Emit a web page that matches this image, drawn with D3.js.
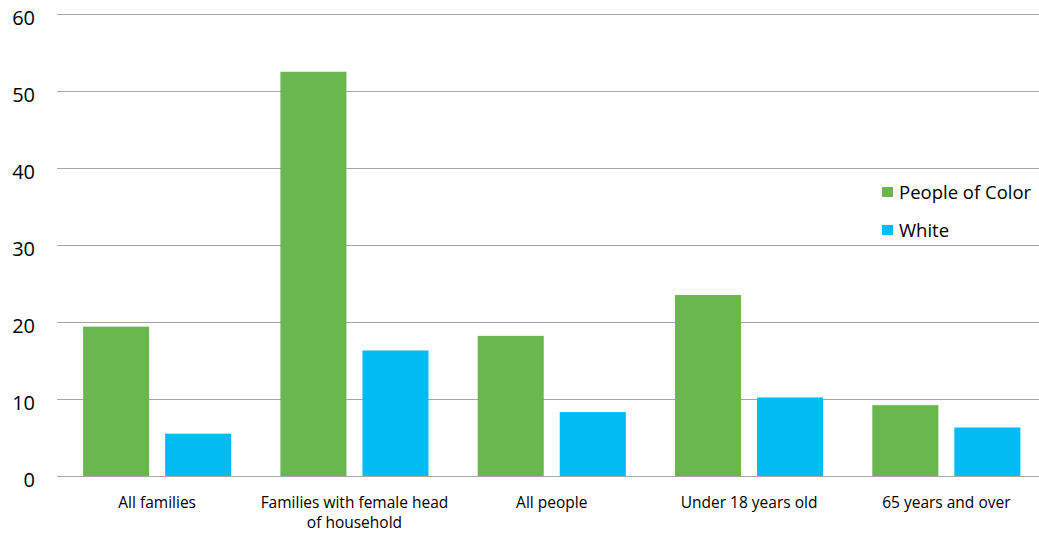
<!DOCTYPE html>
<html>
<head>
<meta charset="utf-8">
<script src="https://cdn.jsdelivr.net/npm/d3@7"></script>
<style>
  body { margin: 0; background: #fff; }
  svg { display: block; font-family: "Open Sans", sans-serif; }
</style>
</head>
<body>
<div id="chart"></div>
<script>
// categories and series (poverty rate, %)
const categories = ["All families", "Families with female head of household", "All people", "Under 18 years old", "65 years and over"];
const seriesNames = ["People of Color", "White"];
const peopleOfColor = [19.4, 52.5, 18.2, 23.5, 9.2];
const white = [5.5, 16.3, 8.3, 10.2, 6.3];
const yTicks = [0, 10, 20, 30, 40, 50, 60];

const colors = { "People of Color": "#6ab64f", "White": "#00bcf2" };

const width = 1039, height = 533;
const svg = d3.select("#chart").append("svg")
  .attr("width", width)
  .attr("height", height);

const x0 = d3.scaleBand()
  .domain(categories)
  .range([58.5, 1045])
  .paddingInner(0)
  .paddingOuter(0);

// two bars per group, centred in each band
const x1 = d3.scaleBand()
  .domain(seriesNames)
  .range([24.6, x0.bandwidth() - 24.6])
  .paddingInner(0.195)
  .paddingOuter(0);

const y = d3.scaleLinear()
  .domain([0, 60])
  .range([476, 14]);

// gridlines
svg.append("g")
  .selectAll("line")
  .data(yTicks)
  .join("line")
    .attr("x1", 57)
    .attr("x2", 1039)
    .attr("y1", d => Math.round(y(d)) + 0.5)
    .attr("y2", d => Math.round(y(d)) + 0.5)
    .attr("stroke", "#a6a6a6")
    .attr("stroke-width", 1);

// y labels
svg.append("g")
  .selectAll("text")
  .data(yTicks)
  .join("text")
    .attr("x", 35)
    .attr("y", d => y(d) + 11)
    .attr("text-anchor", "end")
    .style("font-size", "20px")
    .style("fill", "#000")
    .text(d => d);

// bars
const rows = categories.map((c, i) => ({
  cat: c,
  values: [
    { key: "People of Color", value: peopleOfColor[i] },
    { key: "White", value: white[i] }
  ]
}));

svg.append("g")
  .selectAll("g")
  .data(rows)
  .join("g")
    .attr("transform", d => `translate(${x0(d.cat)},0)`)
  .selectAll("rect")
  .data(d => d.values)
  .join("rect")
    .attr("x", d => x1(d.key))
    .attr("width", x1.bandwidth())
    .attr("y", d => y(d.value))
    .attr("height", d => y(0) - y(d.value))
    .attr("fill", d => colors[d.key]);

// x labels (wrap the long one)
const xLab = svg.append("g")
  .selectAll("text")
  .data(categories)
  .join("text")
    .attr("x", d => x0(d) + x0.bandwidth() / 2)
    .attr("y", 508)
    .attr("text-anchor", "middle")
    .style("font-size", "15.5px")
    .style("fill", "#000");

xLab.each(function(d) {
  const t = d3.select(this);
  const lines = d === "Families with female head of household"
    ? ["Families with female head", "of household"] : [d];
  lines.forEach((l, i) => {
    t.append("tspan")
      .attr("x", x0(d) + x0.bandwidth() / 2)
      .attr("dy", i === 0 ? 0 : 20)
      .text(l);
  });
});

// legend
const legend = svg.append("g")
  .selectAll("g")
  .data(seriesNames)
  .join("g")
    .attr("transform", (d, i) => `translate(882,${187 + i * 38})`);

legend.append("rect")
  .attr("width", 11)
  .attr("height", 10)
  .attr("fill", d => colors[d]);

legend.append("text")
  .attr("x", 17)
  .attr("y", 12)
  .style("font-size", "18.5px")
  .style("fill", "#000")
  .text(d => d);
</script>
</body>
</html>
